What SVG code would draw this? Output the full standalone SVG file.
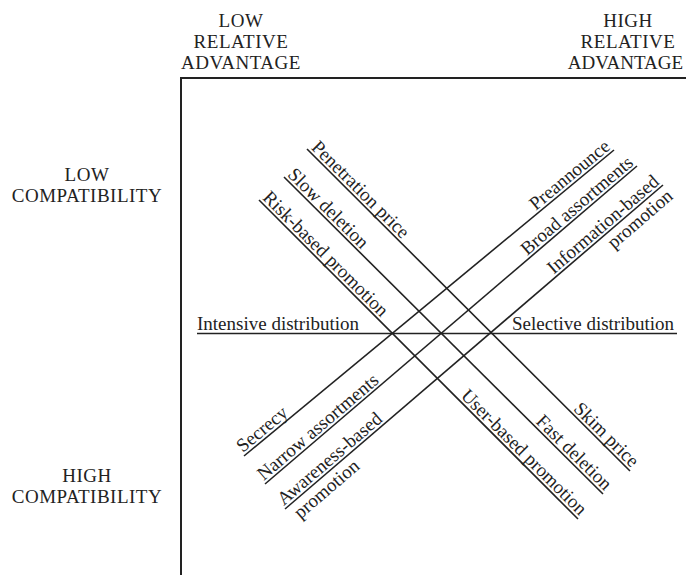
<svg xmlns="http://www.w3.org/2000/svg" width="686" height="575" viewBox="0 0 686 575">
<style>
text{font-family:"Liberation Serif","Times New Roman",serif;font-size:19px;fill:#222}
.h{font-size:19px;letter-spacing:0.5px;text-anchor:middle}
.ln{stroke:#222;stroke-width:1.6;fill:none}
.fr{stroke:#222;stroke-width:2;fill:none}
.e{text-anchor:end}
</style>
<rect width="686" height="575" fill="#fff"/>
<g id="frame">
<path class="fr" d="M181,575 V78 H686"/>
</g>
<g id="axis-labels">
<g id="low-rel-adv"><text class="h" x="241" y="26.5">LOW</text><text class="h" x="241" y="47.5">RELATIVE</text><text class="h" x="241" y="68.5">ADVANTAGE</text></g>
<g id="high-rel-adv"><text class="h" x="628" y="26.5">HIGH</text><text class="h" x="628" y="47.5">RELATIVE</text><text class="h" x="625.5" y="68.5" style="letter-spacing:0">ADVANTAGE</text></g>
<g id="low-compat"><text class="h" x="87" y="180.5">LOW</text><text class="h" x="87" y="201.5">COMPATIBILITY</text></g>
<g id="high-compat"><text class="h" x="87" y="481.5">HIGH</text><text class="h" x="87" y="502.5">COMPATIBILITY</text></g>
</g>
<g id="connectors">
<line class="ln" x1="197" y1="333.5" x2="677" y2="333.5" stroke-width="2"/>
<line class="ln" x1="307" y1="149" x2="630" y2="471"/>
<line class="ln" x1="284" y1="177" x2="603" y2="494"/>
<line class="ln" x1="259" y1="200" x2="578" y2="519"/>
<line class="ln" x1="244" y1="456" x2="614" y2="150"/>
<line class="ln" x1="265" y1="484" x2="637" y2="166"/>
<line class="ln" x1="285" y1="509" x2="663" y2="185"/>
</g>
<g id="distribution">
<text x="197" y="330">Intensive distribution</text>
<text x="512" y="330">Selective distribution</text>
</g>
<g id="price">
<text transform="translate(307,149) rotate(44.9)" x="2" y="-3">Penetration price</text>
<text class="e" transform="translate(630,471) rotate(44.9)" x="-1" y="-3">Skim price</text>
</g>
<g id="deletion">
<text transform="translate(284,177) rotate(44.8)" x="1" y="-3">Slow deletion</text>
<text class="e" transform="translate(603,494) rotate(44.8)" x="-1" y="-3">Fast deletion</text>
</g>
<g id="promotion-risk-user">
<text transform="translate(259,200) rotate(45)" x="1" y="-3">Risk-based promotion</text>
<text class="e" transform="translate(578,519) rotate(45)" x="-1" y="-3">User-based promotion</text>
</g>
<g id="announce">
<text transform="translate(244,456) rotate(-39.6)" x="1" y="-3">Secrecy</text>
<text class="e" transform="translate(614,150) rotate(-39.6)" x="-1" y="-3">Preannounce</text>
</g>
<g id="assortments">
<text transform="translate(265,484) rotate(-40.5)" x="1" y="-3">Narrow assortments</text>
<text class="e" transform="translate(637,166) rotate(-40.5)" x="-1" y="-3">Broad assortments</text>
</g>
<g id="promotion-aware-info">
<g transform="translate(285,509) rotate(-40.6)"><text x="1" y="-3">Awareness-based</text><text x="5" y="18">promotion</text></g>
<g transform="translate(663,185) rotate(-40.6)"><text class="e" x="-1" y="-3">Information-based</text><text class="e" x="0" y="17">promotion</text></g>
</g>
</svg>
